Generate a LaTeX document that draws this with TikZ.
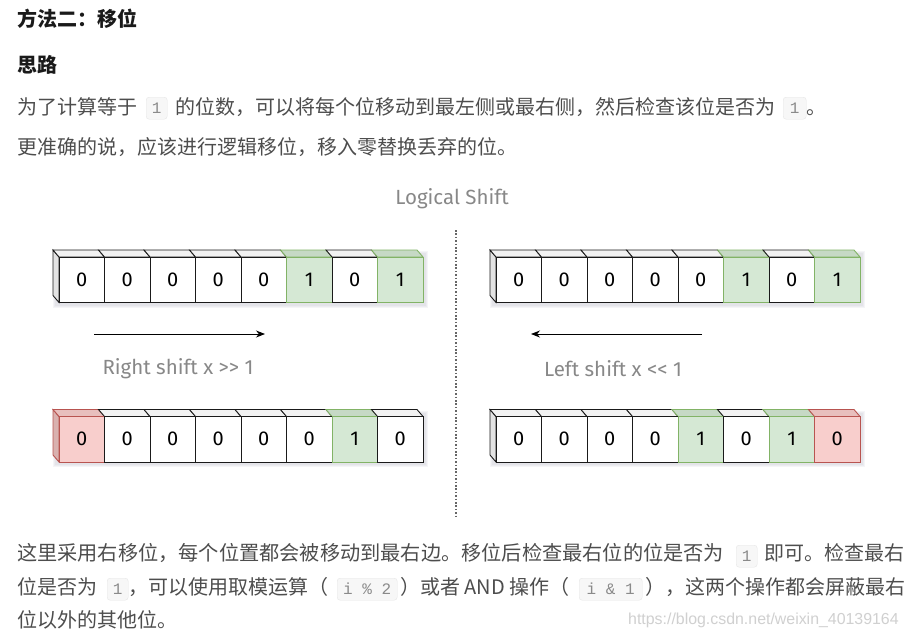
\documentclass[tikz,border=0pt]{standalone}
\usepackage{fontspec}
\newfontfamily\cjk{Noto Sans CJK SC}
\newfontfamily\diag{Fira Sans}
\newfontfamily\mono{Liberation Mono}
\newfontfamily\wm{Liberation Sans}
\usetikzlibrary{arrows.meta}
\definecolor{bodytxt}{HTML}{4D4D4D}
\definecolor{headtxt}{HTML}{1A1A1A}
\definecolor{codebg}{HTML}{F7F7F7}
\definecolor{codeborder}{HTML}{E6E6E6}
\definecolor{codetxt}{HTML}{8A8A8A}
\definecolor{wmcolor}{HTML}{D0D0D0}
\definecolor{labeltxt}{HTML}{888888}
\definecolor{dotc}{HTML}{666666}
\definecolor{shadowc}{HTML}{9EA3B5}
\definecolor{frontw}{HTML}{FFFFFF}
\definecolor{topw}{HTML}{F2F2F2}
\definecolor{sidew}{HTML}{E3E3E3}
\definecolor{linew}{HTML}{1A1A1A}
\definecolor{frontg}{HTML}{D5E8D4}
\definecolor{topg}{HTML}{C6D9C5}
\definecolor{sideg}{HTML}{B9CBB8}
\definecolor{lineg}{HTML}{82B366}
\definecolor{frontr}{HTML}{F8CECC}
\definecolor{topr}{HTML}{E8BFBD}
\definecolor{sider}{HTML}{D9B1AF}
\definecolor{liner}{HTML}{B85450}
\newcommand\cuberow[4]{%
  \foreach \k in {0,1,2} {
    \fill[shadowc, opacity=0.10] (#1-4-\k, #2-4-\k) rectangle (#1+364+3+\k, #2+45.5+3+\k);
  }
  \foreach \c/\d [count=\i from 0] in {#4} {
    \pgfmathsetmacro\xa{#1+\i*45.5}
    \pgfmathsetmacro\xb{\xa+45.5}
    \ifnum\i=0
      \filldraw[fill=side\c, draw=line\c, line width=0.9pt] (\xa,#2) -- (\xa-6,#2-7) -- (\xa-6,#2+45.5-7) -- (\xa,#2+45.5) -- cycle;
    \fi
    \filldraw[fill=top\c, draw=line\c, line width=0.9pt] (\xa,#2) -- (\xa-6,#2-7) -- (\xb-6,#2-7) -- (\xb,#2) -- cycle;
  }
  \foreach \c/\d [count=\i from 0] in {#4} {
    \pgfmathsetmacro\xc{#1+\i*45.5+22.75}
    \node[cell, fill=front\c, draw=line\c] (#3\i) at (\xc, #2+22.75) {\d};
  }
}
\begin{document}
\begin{tikzpicture}[x=1pt, y=-1pt,
  body/.style={anchor=base west, inner sep=0, font=\cjk\fontsize{20}{20}\selectfont, text=bodytxt},
  head/.style={anchor=base west, inner sep=0, font=\cjk\bfseries\fontsize{20}{20}\selectfont, text=headtxt},
  codebox/.style={anchor=north west, draw=codeborder, fill=codebg, rounded corners=3pt, inner sep=0, minimum height=22pt, text=codetxt, font=\mono\fontsize{16}{16}\selectfont},
  cell/.style={minimum width=45.5pt, minimum height=45.5pt, inner sep=0, line width=0.9pt, text=black, font=\diag\fontsize{20}{20}\selectfont},
  lbl/.style={inner sep=0, text=labeltxt, font=\diag\fontsize{20.5}{20.5}\selectfont},
  arr/.style={-{Stealth[length=9pt,width=7pt]}, line width=0.9pt, draw=black},
  dotline/.style={draw=dotc, line width=1.3pt, dash pattern=on 1.6pt off 1.8pt}
]
\useasboundingbox[fill=white] (0,0) rectangle (908,641);

% headings
\node[head] (h1) at (17,26) {方法二：移位};
\node[head] (h2) at (17,72) {思路};

% paragraph 1
\node[body] (p1a) at (17,114) {为了计算等于};
\node[codebox, minimum width=21pt] (c1) at (146,97) {1};
\node[body] (p1b) at (175,114) {的位数，可以将每个位移动到最左侧或最右侧，然后检查该位是否为};
\node[codebox, minimum width=23pt] (c2) at (783,97) {1};
\node[body] (p1c) at (806,114) {。};
\node[body] (p2) at (17,154) {更准确的说，应该进行逻辑移位，移入零替换丢弃的位。};

% diagram
\node[lbl] (title) at (452,199) {Logical Shift};

\cuberow{59}{257}{tl}{w/0,w/0,w/0,w/0,w/0,g/1,w/0,g/1}
\cuberow{496}{257}{tr}{w/0,w/0,w/0,w/0,w/0,g/1,w/0,g/1}
\cuberow{59}{416.5}{bl}{r/0,w/0,w/0,w/0,w/0,w/0,g/1,w/0}
\cuberow{496}{416.5}{br}{w/0,w/0,w/0,w/0,g/1,w/0,g/1,r/0}

\coordinate (ra1) at (94,334);
\coordinate (ra2) at (265,334);
\draw[arr] (ra1) -- (ra2);
\coordinate (la1) at (702,334);
\coordinate (la2) at (531,334);
\draw[arr] (la1) -- (la2);

\node[lbl] (rlabel) at (178,369) {Right shift x >{}> 1};
\node[lbl] (llabel) at (613,369) {Left shift x <{}< 1};

\coordinate (d1) at (456,230);
\coordinate (d2) at (456,516);
\draw[dotline] (d1) -- (d2);

% bottom paragraph
\node[body, font=\cjk\fontsize{20.2}{20.2}\selectfont] (q1a) at (17,560) {这里采用右移位，每个位置都会被移动到最右边。移位后检查最右位的位是否为};
\node[codebox, minimum width=21pt] (c3) at (736,545) {1};
\node[body] (q1b) at (764,560) {即可。检查最右};
\node[body] (q2a) at (17,594) {位是否为};
\node[codebox, minimum width=21pt] (c4) at (107,578) {1};
\node[body] (q2b) at (128,594) {，可以使用取模运算（};
\node[codebox, minimum width=60pt] (c5) at (337,578) {i \% 2};
\node[body] (q2c) at (400,594) {）或者 AND 操作（};
\node[codebox, minimum width=63pt] (c6) at (579,578) {i \& 1};
\node[body] (q2d) at (645,594) {），这两个操作都会屏蔽最右};
\node[body] (q3) at (17,627) {位以外的其他位。};

\node[anchor=west, inner sep=0, font=\wm\fontsize{15.9}{15.9}\selectfont, text=wmcolor] (wmk) at (628,620) {https://blog.csdn.net/weixin\_40139164};
\end{tikzpicture}
\end{document}
